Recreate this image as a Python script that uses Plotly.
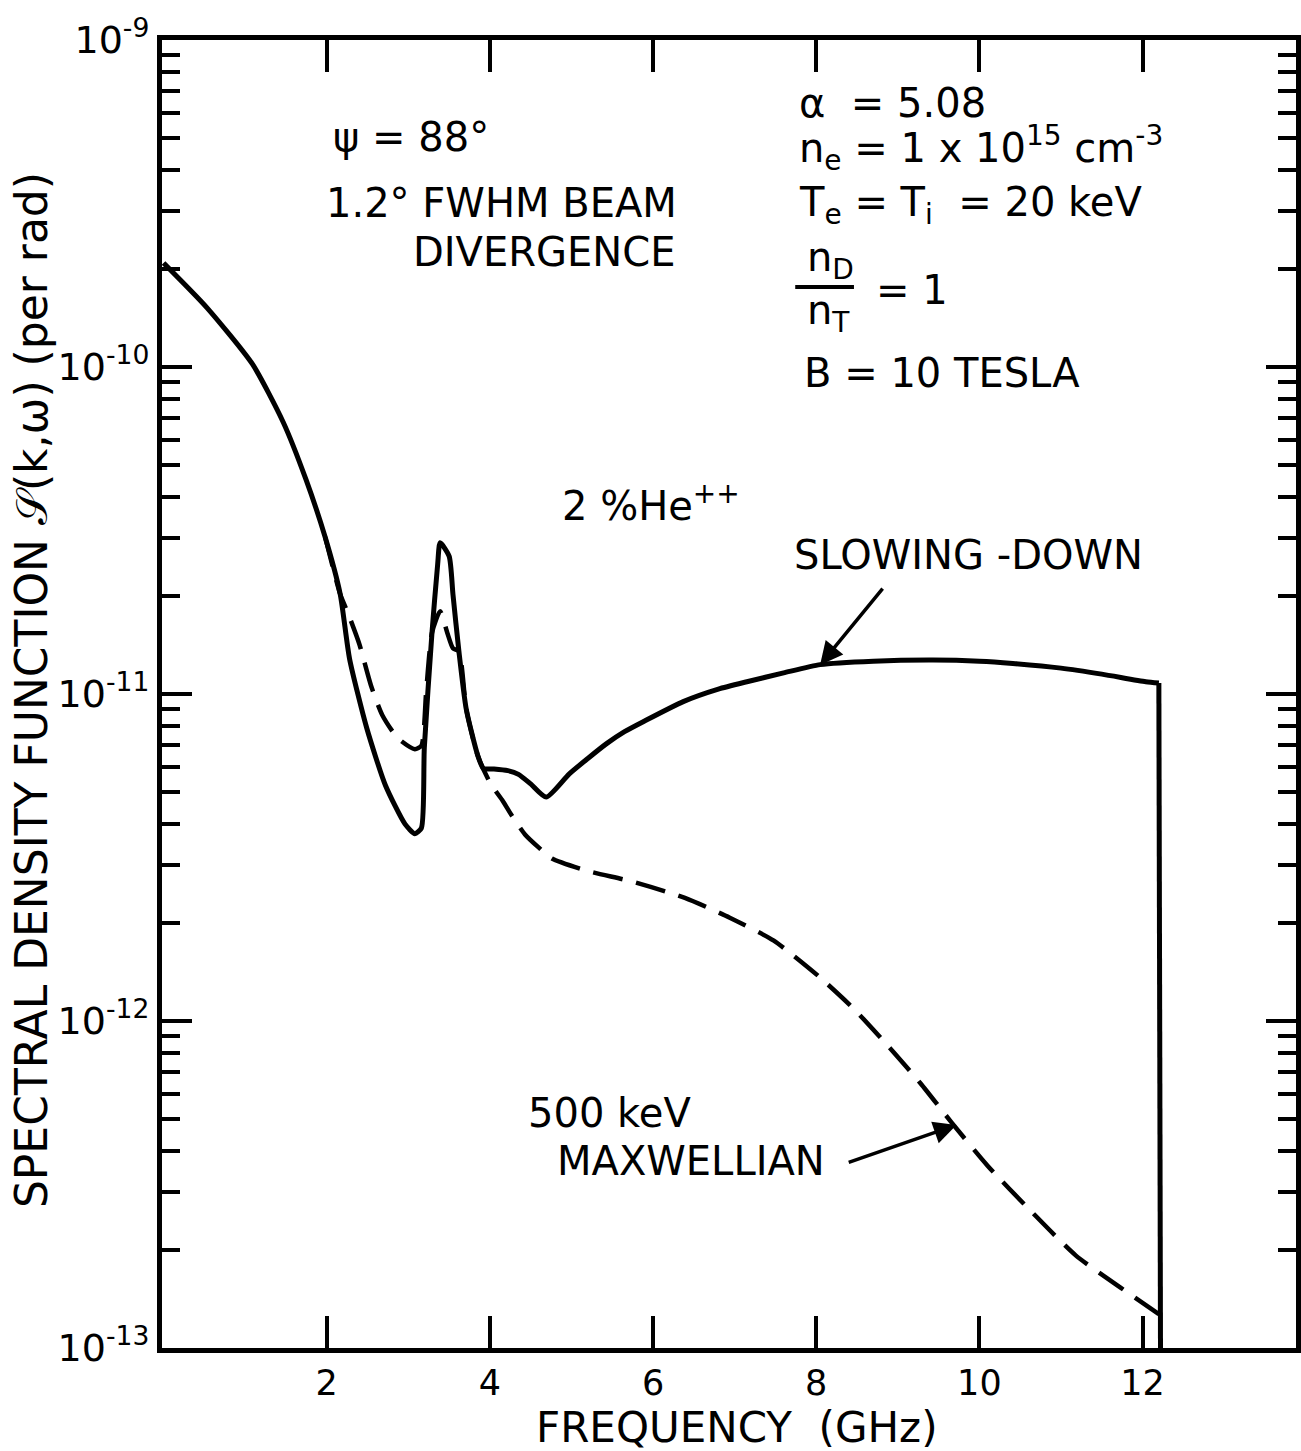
import plotly.graph_objects as go

# ---- data ----
freq_slowing = [0.0, 0.53, 1.09, 1.465, 1.745, 1.98, 2.165, 2.28, 2.49, 2.72, 2.96, 3.08,
                3.16, 3.196, 3.29, 3.36, 3.39, 3.50, 3.547, 3.62, 3.71, 3.85, 3.92, 4.05,
                4.22, 4.35, 4.5, 4.69, 4.97, 5.2, 5.43, 5.65, 5.9, 6.37, 6.8, 7.15, 7.6,
                8.05, 8.7, 9.43, 10.0, 10.41, 11.0, 11.5, 12.04, 12.2, 12.22]
S_slowing = [2.08e-10, 1.52e-10, 1.02e-10, 6.79e-11, 4.53e-11, 3.02e-11, 2.02e-11, 1.28e-11,
             7.87e-12, 5.25e-12, 4.00e-12, 3.74e-12, 3.89e-12, 6.85e-12, 1.54e-11, 2.50e-11,
             2.90e-11, 2.64e-11, 2.02e-11, 1.35e-11, 8.99e-12, 6.50e-12, 5.92e-12, 5.90e-12,
             5.83e-12, 5.68e-12, 5.31e-12, 4.84e-12, 5.69e-12, 6.35e-12, 7.05e-12, 7.67e-12,
             8.28e-12, 9.48e-12, 1.035e-11, 1.09e-11, 1.16e-11, 1.23e-11, 1.26e-11, 1.27e-11,
             1.26e-11, 1.24e-11, 1.20e-11, 1.15e-11, 1.09e-11, 1.08e-11, 1.0e-13]

freq_maxw = [1.98, 2.165, 2.263, 2.40, 2.543, 2.68, 2.87, 3.08, 3.16, 3.22, 3.29, 3.39, 3.477,
             3.547, 3.62, 3.71, 3.85, 4.0, 4.16, 4.27, 4.43, 4.6, 4.76, 5.19, 5.74, 6.39, 6.94,
             7.48, 8.03, 8.46, 8.9, 9.28, 9.66, 10.1, 10.64, 11.18, 11.73, 12.2]
S_maxw = [3.02e-11, 2.02e-11, 1.76e-11, 1.42e-11, 1.06e-11, 8.63e-12, 7.33e-12, 6.78e-12,
          6.95e-12, 1.03e-11, 1.54e-11, 1.79e-11, 1.54e-11, 1.38e-11, 1.35e-11, 8.99e-12,
          6.50e-12, 5.36e-12, 4.70e-12, 4.24e-12, 3.72e-12, 3.39e-12, 3.14e-12, 2.88e-12,
          2.67e-12, 2.38e-12, 2.07e-12, 1.76e-12, 1.37e-12, 1.09e-12, 8.28e-13, 6.44e-13,
          4.89e-13, 3.61e-13, 2.61e-13, 1.92e-13, 1.53e-13, 1.27e-13]

x_ticks = [2, 4, 6, 8, 10, 12]
y_ticks = [1e-13, 1e-12, 1e-11, 1e-10, 1e-9]
y_ticktext = ["10<sup>-13</sup>", "10<sup>-12</sup>", "10<sup>-11</sup>",
              "10<sup>-10</sup>", "10<sup>-9</sup>"]
y_minor = [m * d for d in [1e-13, 1e-12, 1e-11, 1e-10] for m in range(2, 10)]

FONT = "DejaVu Sans"
fig = go.Figure()
fig.add_trace(go.Scatter(x=freq_maxw, y=S_maxw, mode="lines",
                         line=dict(color="black", width=4.5, dash="30px,14px",
                                   shape="spline", smoothing=0.6),
                         name="500 keV Maxwellian", showlegend=False))
fig.add_trace(go.Scatter(x=freq_slowing[:-1], y=S_slowing[:-1], mode="lines",
                         line=dict(color="black", width=5, shape="spline", smoothing=0.6),
                         name="Slowing-down", showlegend=False))
fig.add_trace(go.Scatter(x=freq_slowing[-2:], y=S_slowing[-2:], mode="lines",
                         line=dict(color="black", width=5),
                         name="Slowing-down cutoff", showlegend=False))

def txt(x, y, s, anchor="left", size=40):
    fig.add_annotation(x=x, y=y, xref="x", yref="y", text=s, showarrow=False,
                       xanchor=anchor, yanchor="middle",
                       font=dict(family=FONT, size=size, color="black"))

txt(2.055, -9.297, "ψ = 88°")
txt(1.97, -9.498, "1.2° FWHM BEAM")
txt(3.03, -9.648, "DIVERGENCE")
txt(7.767, -9.193, "α  = 5.08")
txt(7.767, -9.330, "n<sub>e</sub> = 1 x 10<sup>15</sup> cm<sup>-3</sup>")
txt(7.767, -9.505, "T<sub>e</sub> = T<sub>i</sub>  = 20 keV")
txt(7.864, -9.673, "n<sub>D</sub>")
txt(7.864, -9.835, "n<sub>T</sub>")
txt(8.706, -9.765, "= 1")
txt(7.828, -10.018, "B = 10 TESLA")
txt(4.86, -10.416, "2 %He<sup>++</sup>")
txt(7.706, -10.575, "SLOWING -DOWN")
txt(4.447, -12.281, "500 keV")
txt(4.80, -12.428, "MAXWELLIAN")

fig.add_shape(type="line", xref="paper", yref="paper", x0=0.5584, x1=0.6102,
              y0=0.8112, y1=0.8112, line=dict(color="black", width=4))

for (hx, hy, tx, ty) in [(8.047, -10.911, 8.829, -10.673), (9.719, -12.318, 8.38, -12.434)]:
    fig.add_annotation(x=hx, y=hy, ax=tx, ay=ty, xref="x", yref="y", axref="x", ayref="y",
                       text="", showarrow=True, arrowhead=2, arrowsize=1.3, arrowwidth=3.5,
                       arrowcolor="black")

# axis titles as annotations for exact placement
fig.add_annotation(x=-0.1155, y=0.503, xref="paper", yref="paper", textangle=-90,
                   text="SPECTRAL DENSITY FUNCTION 𝒮(k,ω) (per rad)", showarrow=False,
                   xanchor="center", yanchor="middle",
                   font=dict(family=FONT, size=44, color="black"))
fig.add_annotation(x=0.507, y=-0.0605, xref="paper", yref="paper",
                   text="FREQUENCY  (GHz)", showarrow=False,
                   xanchor="center", yanchor="middle",
                   font=dict(family=FONT, size=42, color="black"))

fig.update_xaxes(range=[-0.0195, 13.881], tickvals=x_ticks, ticktext=[str(v) for v in x_ticks],
                 ticks="inside", ticklen=32, tickwidth=4, tickcolor="black",
                 showline=True, linewidth=5, linecolor="black", mirror="allticks",
                 showgrid=False, zeroline=False,
                 tickfont=dict(family=FONT, size=35, color="black"))
fig.update_yaxes(type="log", range=[-13, -9], tickvals=y_ticks, ticktext=y_ticktext,
                 ticks="inside", ticklen=30, tickwidth=4, tickcolor="black",
                 showline=True, linewidth=5, linecolor="black", mirror="allticks",
                 showgrid=False, zeroline=False,
                 minor=dict(tickvals=y_minor, ticks="inside", ticklen=18, tickwidth=4,
                            tickcolor="black", showgrid=False),
                 tickfont=dict(family=FONT, size=38, color="black"))

fig.update_layout(width=1301, height=1451, margin=dict(l=162, r=0, t=40, b=103),
                  paper_bgcolor="white", plot_bgcolor="white", showlegend=False)

fig.write_html("out.html")
